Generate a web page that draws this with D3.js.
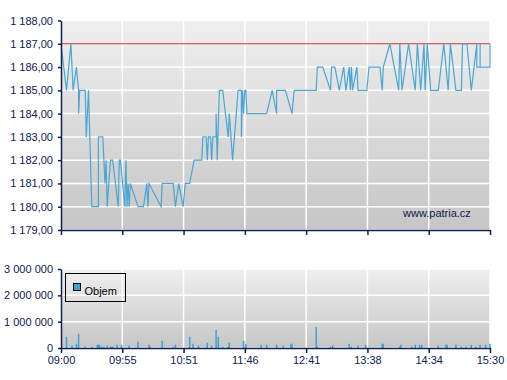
<!DOCTYPE html>
<html>
<head>
<meta charset="utf-8">
<script src="https://cdn.jsdelivr.net/npm/d3@7"></script>
<style>
body { margin: 0; background: #fff; }
svg { display: block; font-family: "Liberation Sans", Arial, sans-serif; }
</style>
</head>
<body>
<svg></svg>
<script>
// trade prices (time, price)
let priceTimes = [
  '09:00','09:05','09:09','09:11','09:14','09:16','09:16','09:17','09:22','09:23',
  '09:25','09:28','09:34','09:34','09:38','09:40','09:41','09:42','09:45','09:47',
  '09:52','09:53','09:54','09:58','09:59','10:00','10:01','10:02','10:03','10:10',
  '10:15','10:18','10:19','10:20','10:31','10:32','10:42','10:44','10:47','10:51',
  '10:53','10:57','11:01','11:08','11:09','11:12','11:13','11:14','11:16','11:17',
  '11:18','11:21','11:21','11:22','11:24','11:27','11:32','11:33','11:36','11:41',
  '11:44','11:44','11:45','11:46','11:47','11:48','11:49','12:07','12:12','12:16',
  '12:16','12:24','12:30','12:32','12:52','12:53','12:58','13:05','13:06','13:09',
  '13:13','13:17','13:19','13:22','13:23','13:24','13:25','13:29','13:30','13:38',
  '13:40','13:50','13:52','13:53','13:59','14:07','14:08','14:10','14:16','14:22',
  '14:24','14:27','14:30','14:31','14:33','14:36','14:43','14:48','14:52','14:54',
  '14:59','15:04','15:05','15:09','15:13','15:18','15:18','15:21','15:21','15:21',
  '15:30','15:30'
]
let priceValues = [
  1187,1185,1187,1185,1186,1185,1184,1185,1185,1183,
  1185,1180,1180,1183,1183,1181,1182,1180,1182,1182,
  1180,1182,1182,1180,1182,1180,1181,1180,1181,1180,
  1180,1181,1180,1181,1180,1181,1181,1180,1181,1180,
  1181,1181,1182,1182,1183,1183,1182,1183,1183,1182,
  1183,1183,1184,1182,1185,1185,1183,1184,1182,1185,
  1185,1183,1185,1184,1185,1185,1184,1184,1185,1184,
  1185,1185,1184,1185,1185,1186,1186,1185,1186,1186,
  1185,1186,1185,1186,1185,1186,1185,1186,1185,1185,
  1186,1186,1185,1186,1187,1185,1187,1185,1187,1185,
  1187,1185,1187,1185,1187,1185,1185,1187,1185,1187,
  1185,1185,1187,1187,1185,1187,1186,1186,1187,1186,
  1186,1187
]
// previous close
let referencePrice = 1187

// traded volume
let volumeTimes = [
  '09:05','09:10','09:14','09:16','09:22','09:28','09:33','09:34','09:35','09:37',
  '09:39','09:42','09:45','09:46','09:47','09:51','09:55','10:02','10:10','10:20',
  '10:21','10:32','10:42','10:44','10:57','11:00','11:05','11:13','11:17','11:21',
  '11:23','11:27','11:32','11:33','11:46','11:48','12:02','12:07','12:16','12:22',
  '12:29','12:30','12:52','12:53','13:05','13:07','13:22','13:24','13:30','13:37',
  '13:52','13:53','14:08','14:09','14:19','14:22','14:26','14:28','14:43','14:50',
  '14:51','14:59','15:04','15:08','15:13','15:17','15:21','15:26','15:30'
]
let volumeValues = [
  425000,90000,160000,540000,50000,50000,125000,125000,125000,50000,
  50000,90000,50000,50000,50000,125000,125000,90000,240000,125000,
  50000,275000,50000,125000,425000,160000,90000,200000,90000,690000,
  425000,50000,50000,200000,275000,160000,125000,125000,125000,90000,
  160000,160000,800000,50000,50000,90000,160000,50000,90000,125000,
  160000,160000,50000,125000,50000,125000,125000,125000,90000,125000,
  125000,125000,50000,50000,125000,50000,125000,125000,160000
]

let timeLabels = ['09:00','09:55','10:51','11:46','12:41','13:38','14:34','15:30']
let priceTicks = [1179,1180,1181,1182,1183,1184,1185,1186,1187,1188]
let volumeTicks = [0,1000000,2000000,3000000]

let width = 507
let height = 380
let left = 61
let right = 490

let navy = '#0d2050'

let svg = d3.select('svg')
svg.attr('width', width).attr('height', height)

let parseTime = d3.timeParse('%H:%M')
let startTime = parseTime('09:00')
let endTime = parseTime('15:30')

let locale = d3.formatLocale({decimal: ',', thousands: ' ', grouping: [3], currency: ['', '']})
let priceFormat = locale.format(',.2f')
let volumeFormat = locale.format(',d')

let xScale = d3.scaleTime()
  .domain([startTime, endTime])
  .range([left, right])

// ticks split the session into equal parts
let tickTimes = timeLabels.map((d, i) => new Date(+startTime + i * (endTime - startTime) / (timeLabels.length - 1)))

let priceScale = d3.scaleLinear()
  .domain([1179, 1188])
  .range([230, 20.5])

let volumeScale = d3.scaleLinear()
  .domain([0, 3000000])
  .range([348, 269])

// background gradient
let defs = svg.append('defs')
let grad = defs.append('linearGradient')
  .attr('id', 'bg')
  .attr('x1', 0).attr('y1', 0).attr('x2', 0).attr('y2', 1)
grad.append('stop').attr('offset', '0%').attr('stop-color', '#efefef')
grad.append('stop').attr('offset', '100%').attr('stop-color', '#c6c6c6')

let drawPanel = (yScale, ticks) => {
  let g = svg.append('g')
  let y0 = yScale.range()[0]
  let y1 = yScale.range()[1]
  g.append('rect')
    .attr('x', left).attr('y', y1)
    .attr('width', right - left).attr('height', y0 - y1)
    .attr('fill', 'url(#bg)')
  g.selectAll('.hgrid')
    .data(ticks)
    .enter()
    .append('line')
    .attr('x1', left).attr('x2', right)
    .attr('y1', d => yScale(d)).attr('y2', d => yScale(d))
    .attr('stroke', '#fff').attr('stroke-width', 1.5)
  g.selectAll('.vgrid')
    .data(tickTimes)
    .enter()
    .append('line')
    .attr('x1', d => xScale(d)).attr('x2', d => xScale(d))
    .attr('y1', y1).attr('y2', y0)
    .attr('stroke', '#fff').attr('stroke-width', 1.5)
}

drawPanel(priceScale, priceTicks)
drawPanel(volumeScale, volumeTicks)

// previous close line
svg.append('line')
  .attr('x1', left).attr('x2', right)
  .attr('y1', priceScale(referencePrice)).attr('y2', priceScale(referencePrice))
  .attr('stroke', '#cc2a2a').attr('stroke-width', 1)

let priceData = priceTimes.map((t, i) => [parseTime(t), priceValues[i]])
let line = d3.line()
  .x(d => xScale(d[0]))
  .y(d => priceScale(d[1]))

svg.append('path')
  .datum(priceData)
  .attr('d', line)
  .attr('fill', 'none')
  .attr('stroke', '#4aa7d3')
  .attr('stroke-width', 1.2)

let volumeData = volumeTimes.map((t, i) => [parseTime(t), volumeValues[i]])
svg.selectAll('.vol')
  .data(volumeData)
  .enter()
  .append('rect')
  .attr('x', d => xScale(d[0]) - 0.75)
  .attr('width', 1.5)
  .attr('y', d => volumeScale(d[1]))
  .attr('height', d => volumeScale(0) - volumeScale(d[1]))
  .attr('fill', '#3ea3d4')

// axes
let styleAxis = (g) => {
  g.selectAll('path').attr('stroke', navy).attr('stroke-width', 1.5)
  g.selectAll('line').attr('stroke', navy).attr('stroke-width', 1.5)
  g.selectAll('text').attr('fill', navy).style('font-size', '11px')
    .style('font-family', '"Liberation Sans", Arial, sans-serif')
}

let priceAxis = d3.axisLeft(priceScale)
  .tickValues(priceTicks).tickSize(3).tickSizeOuter(0).tickPadding(5)
  .tickFormat(priceFormat)
svg.append('g')
  .attr('transform', 'translate(' + left + ',0)')
  .call(priceAxis)
  .call(styleAxis)

let topTimeAxis = d3.axisBottom(xScale)
  .tickValues(tickTimes).tickSize(5).tickSizeOuter(0)
  .tickFormat('')
svg.append('g')
  .attr('transform', 'translate(0,230)')
  .call(topTimeAxis)
  .call(styleAxis)

let volumeAxis = d3.axisLeft(volumeScale)
  .tickValues(volumeTicks).tickSize(3).tickSizeOuter(0).tickPadding(5)
  .tickFormat(volumeFormat)
svg.append('g')
  .attr('transform', 'translate(' + left + ',0)')
  .call(volumeAxis)
  .call(styleAxis)

let timeAxis = d3.axisBottom(xScale)
  .tickValues(tickTimes).tickSize(5).tickSizeOuter(0).tickPadding(3)
  .tickFormat((d, i) => timeLabels[i])
svg.append('g')
  .attr('transform', 'translate(0,348)')
  .call(timeAxis)
  .call(styleAxis)

// legend
let legend = svg.append('g')
legend.append('rect')
  .attr('x', 65.5).attr('y', 273.5).attr('width', 60).attr('height', 28)
  .attr('fill', 'none').attr('stroke', '#000').attr('stroke-width', 1)
legend.append('rect')
  .attr('x', 73.5).attr('y', 283.5).attr('width', 7).attr('height', 7)
  .attr('fill', '#3ea3d4').attr('stroke', '#000').attr('stroke-width', 1)
legend.append('text')
  .attr('x', 84.5).attr('y', 295)
  .attr('fill', '#000').style('font-size', '11px')
  .text('Objem')

// watermark
svg.append('text')
  .attr('x', 403).attr('y', 217)
  .attr('fill', navy).style('font-size', '11px')
  .text('www.patria.cz')
</script>
</body>
</html>
